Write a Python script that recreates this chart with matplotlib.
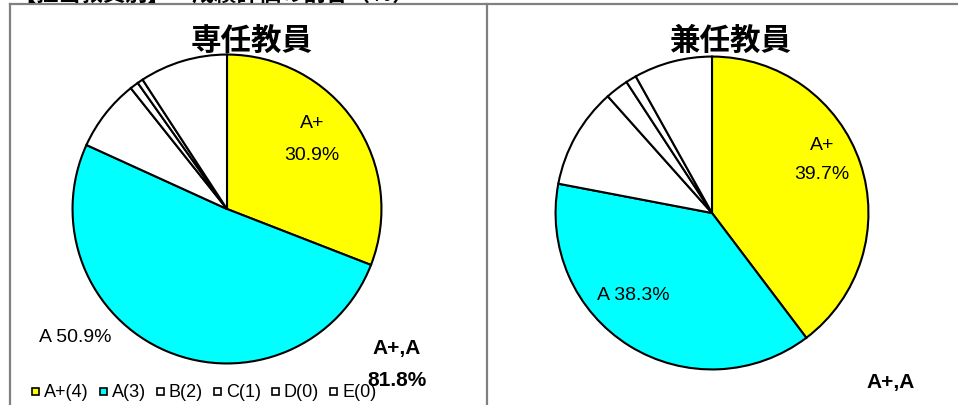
import matplotlib
matplotlib.use("Agg")
import matplotlib.pyplot as plt
from matplotlib.patches import Rectangle
from matplotlib.lines import Line2D

plt.rcParams['font.family'] = ['Liberation Sans', 'Noto Sans CJK JP', 'DejaVu Sans']

# ---- data ----
categories = ["A+(4)", "A(3)", "B(2)", "C(1)", "D(0)", "E(0)"]
full_time = [30.9, 50.9, 7.5, 0.9, 0.6, 9.2]
part_time = [39.7, 38.3, 10.4, 2.4, 1.1, 8.1]
titles = ["専任教員", "兼任教員"]
slice_colors = ["#FFFF00", "#00FFFF", "#FFFFFF", "#FFFFFF", "#FFFFFF", "#FFFFFF"]
header_text = "【担当教員別】　成績評価の割合（％）"

W, H = 958, 406
fig = plt.figure(figsize=(W / 100, H / 100), dpi=100)
fig.patch.set_facecolor("white")


def fx(x):
    return x / W


def fy(y):
    return 1 - y / H


# frame lines
fig.add_artist(Line2D([fx(10), 1], [fy(4.5), fy(4.5)], color="#808080", lw=1.6))
fig.add_artist(Line2D([fx(10), fx(10)], [fy(4.5), 0], color="#808080", lw=1.6))
fig.add_artist(Line2D([fx(487), fx(487)], [fy(4.5), 0], color="#808080", lw=1.6))

# header text, cut off at the top edge as in the source screenshot
fig.text(fx(14), fy(0.5), header_text, fontsize=16, fontweight="bold",
         family=["Noto Sans CJK JP", "DejaVu Sans"], ha="left", va="baseline")


def draw_pie(values, cx, cy, r, title, tx, ty):
    ax = fig.add_axes([fx(cx - r), fy(cy + r), 2 * r / W, 2 * r / H])
    ax.pie(values, colors=slice_colors, startangle=90, counterclock=False,
           wedgeprops=dict(edgecolor="black", linewidth=1.5))
    ax.set_xlim(-1.01, 1.01)
    ax.set_ylim(-1.01, 1.01)
    ax.set_aspect("auto")
    ax.axis("off")
    fig.text(fx(tx), fy(ty), title, fontsize=22, fontweight="bold",
             family=["Noto Sans CJK JP", "DejaVu Sans"], ha="center", va="center")
    return ax


draw_pie(full_time, 227, 210, 156, titles[0], 252, 42)
draw_pie(part_time, 712, 214, 158, titles[1], 730, 41)

lab_fs = 14
# slice labels, left pie
fig.text(fx(312), fy(123), "A+", fontsize=lab_fs, ha="center", va="center")
fig.text(fx(312), fy(156), f"{full_time[0]:.1f}%", fontsize=lab_fs, ha="center", va="center")
fig.text(fx(39), fy(337), f"A {full_time[1]:.1f}%", fontsize=lab_fs, ha="left", va="center")
# slice labels, right pie
fig.text(fx(822), fy(145), "A+", fontsize=lab_fs, ha="center", va="center")
fig.text(fx(822), fy(175), f"{part_time[0]:.1f}%", fontsize=lab_fs, ha="center", va="center")
fig.text(fx(597), fy(296), f"A {part_time[1]:.1f}%", fontsize=lab_fs, ha="left", va="center")

# combined A+,A totals
fig.text(fx(397), fy(349), "A+,A", fontsize=15, fontweight="bold", ha="center", va="center")
fig.text(fx(397), fy(381), f"{full_time[0] + full_time[1]:.1f}%", fontsize=15,
         fontweight="bold", ha="center", va="center")
fig.text(fx(891), fy(383), "A+,A", fontsize=15, fontweight="bold", ha="center", va="center")

# legend (manual)
fig.canvas.draw()
renderer = fig.canvas.get_renderer()
x = 32
ly = 392
for cat, col in zip(categories, slice_colors):
    fig.add_artist(Rectangle((fx(x), fy(ly + 3.5)), 7 / W, 7 / H, facecolor=col,
                             edgecolor="black", lw=1.2, transform=fig.transFigure))
    t = fig.text(fx(x + 12), fy(ly + 1), cat, fontsize=13, ha="left", va="center")
    bb = t.get_window_extent(renderer=renderer)
    x = bb.x1 + 11

fig.savefig("out.png", dpi=100, facecolor="white")
